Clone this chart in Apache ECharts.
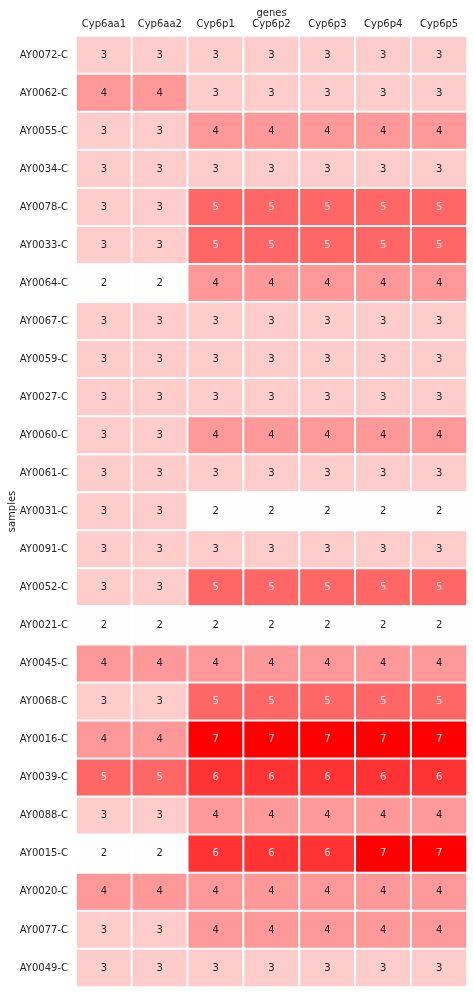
<!DOCTYPE html>
<html><head><meta charset="utf-8">
<script src="https://cdn.jsdelivr.net/npm/echarts@6/dist/echarts.min.js"></script>
<style>html,body{margin:0;padding:0;background:#fff}#c{width:473px;height:994px}</style>
</head><body><div id="c"></div>
<script>
const genes = ['Cyp6aa1','Cyp6aa2','Cyp6p1','Cyp6p2','Cyp6p3','Cyp6p4','Cyp6p5'];
const samples = ['AY0072-C','AY0062-C','AY0055-C','AY0034-C','AY0078-C','AY0033-C','AY0064-C','AY0067-C','AY0059-C','AY0027-C','AY0060-C','AY0061-C','AY0031-C','AY0091-C','AY0052-C','AY0021-C','AY0045-C','AY0068-C','AY0016-C','AY0039-C','AY0088-C','AY0015-C','AY0020-C','AY0077-C','AY0049-C'];
const values = [
 [3,3,3,3,3,3,3],
 [4,4,3,3,3,3,3],
 [3,3,4,4,4,4,4],
 [3,3,3,3,3,3,3],
 [3,3,5,5,5,5,5],
 [3,3,5,5,5,5,5],
 [2,2,4,4,4,4,4],
 [3,3,3,3,3,3,3],
 [3,3,3,3,3,3,3],
 [3,3,3,3,3,3,3],
 [3,3,4,4,4,4,4],
 [3,3,3,3,3,3,3],
 [3,3,2,2,2,2,2],
 [3,3,3,3,3,3,3],
 [3,3,5,5,5,5,5],
 [2,2,2,2,2,2,2],
 [4,4,4,4,4,4,4],
 [3,3,5,5,5,5,5],
 [4,4,7,7,7,7,7],
 [5,5,6,6,6,6,6],
 [3,3,4,4,4,4,4],
 [2,2,6,6,6,7,7],
 [4,4,4,4,4,4,4],
 [3,3,4,4,4,4,4],
 [3,3,3,3,3,3,3]
];
const levels = [2,3,4,5,6,7];
const levelColors = ['#fefefe','#ffcccc','#ff9999','#ff6666','#ff3333','#ff0000'];

const data = [];
values.forEach((row, r) => row.forEach((v, c) => {
  data.push({value: [c, r, v], label: {color: v >= 5 ? '#ffe5e5' : '#262626'}});
}));

const chart = echarts.init(document.getElementById('c'));
chart.setOption({
  animation: false,
  grid: {left: 76, right: 6, top: 36, bottom: 7, outerBoundsMode: 'none', containLabel: false},
  xAxis: {
    type: 'category', data: genes, position: 'top',
    name: 'genes', nameLocation: 'middle', nameGap: 18, nameMoveOverlap: false,
    nameTextStyle: {color: '#262626', fontSize: 10, fontFamily: 'DejaVu Sans'},
    axisLine: {show: false}, axisTick: {show: false}, splitLine: {show: false},
    axisLabel: {color: '#262626', fontSize: 10, fontFamily: 'DejaVu Sans', margin: 7, interval: 0, hideOverlap: false}
  },
  yAxis: {
    type: 'category', data: samples, inverse: true,
    name: 'samples', nameLocation: 'middle', nameGap: 59, nameRotate: 90, nameMoveOverlap: false,
    nameTextStyle: {color: '#262626', fontSize: 10, fontFamily: 'DejaVu Sans'},
    axisLine: {show: false}, axisTick: {show: false}, splitLine: {show: false},
    axisLabel: {color: '#262626', fontSize: 10, fontFamily: 'DejaVu Sans', margin: 8, interval: 0}
  },
  visualMap: {
    show: false, type: 'piecewise', dimension: 2,
    pieces: levels.map((l, i) => ({value: l, color: levelColors[i]}))
  },
  series: [{
    type: 'heatmap', data: data,
    itemStyle: {borderColor: '#ffffff', borderWidth: 2},
    label: {show: true, fontSize: 10, fontFamily: 'DejaVu Sans', formatter: p => p.value[2]},
    emphasis: {disabled: true}
  }]
});
</script></body></html>
